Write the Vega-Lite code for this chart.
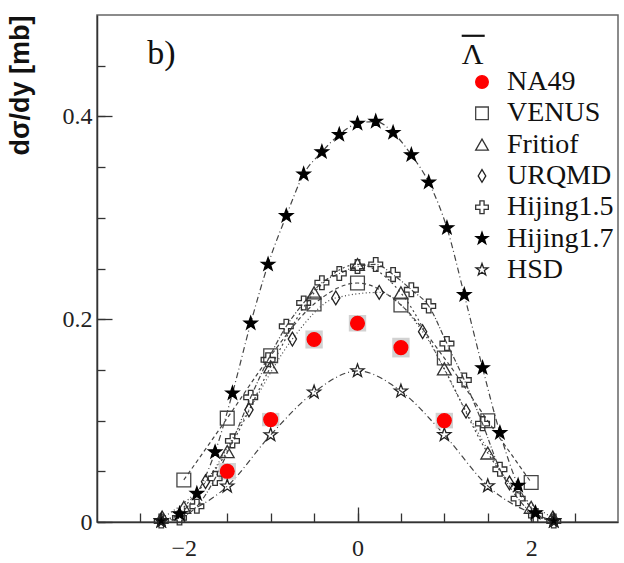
{
  "$schema": "https://vega.github.io/schema/vega-lite/v6.json",
  "width": 521,
  "height": 507,
  "autosize": {"type": "none"},
  "padding": {"left": 97, "top": 15, "right": 6, "bottom": 41},
  "background": "white",
  "config": {
    "view": {"stroke": "#666", "strokeWidth": 1.5},
    "font": "Liberation Serif"
  },
  "resolve": {"axis": {"x": "independent", "y": "independent"}},
  "datasets": {
    "pts": [
      {"model": "VENUS", "x": -2.0, "y": 0.0415},
      {"model": "VENUS", "x": -1.5, "y": 0.1024},
      {"model": "VENUS", "x": -1.0, "y": 0.164},
      {"model": "VENUS", "x": -0.5, "y": 0.215},
      {"model": "VENUS", "x": 0.0, "y": 0.2357},
      {"model": "VENUS", "x": 0.5, "y": 0.214},
      {"model": "VENUS", "x": 1.0, "y": 0.1617},
      {"model": "VENUS", "x": 1.5, "y": 0.0998},
      {"model": "VENUS", "x": 2.0, "y": 0.039},
      {"model": "Fritiof", "x": -2.0, "y": 0.0145},
      {"model": "Fritiof", "x": -1.5, "y": 0.0694},
      {"model": "Fritiof", "x": -1.0, "y": 0.153},
      {"model": "Fritiof", "x": -0.5, "y": 0.226},
      {"model": "Fritiof", "x": 0.0, "y": 0.254},
      {"model": "Fritiof", "x": 0.5, "y": 0.226},
      {"model": "Fritiof", "x": 1.0, "y": 0.151},
      {"model": "Fritiof", "x": 1.5, "y": 0.068},
      {"model": "Fritiof", "x": 2.0, "y": 0.0145},
      {"model": "URQMD", "x": -2.25, "y": 0.004},
      {"model": "URQMD", "x": -1.75, "y": 0.0398},
      {"model": "URQMD", "x": -1.25, "y": 0.1106},
      {"model": "URQMD", "x": -0.75, "y": 0.1804},
      {"model": "URQMD", "x": -0.25, "y": 0.221},
      {"model": "URQMD", "x": 0.25, "y": 0.2264},
      {"model": "URQMD", "x": 0.75, "y": 0.1877},
      {"model": "URQMD", "x": 1.25, "y": 0.1093},
      {"model": "URQMD", "x": 1.75, "y": 0.0385},
      {"model": "URQMD", "x": 2.25, "y": 0.004},
      {"model": "Hijing1.5", "x": -2.26, "y": 0.001},
      {"model": "Hijing1.5", "x": -2.05, "y": 0.004},
      {"model": "Hijing1.5", "x": -1.85, "y": 0.0155},
      {"model": "Hijing1.5", "x": -1.64, "y": 0.043},
      {"model": "Hijing1.5", "x": -1.44, "y": 0.08},
      {"model": "Hijing1.5", "x": -1.23, "y": 0.123},
      {"model": "Hijing1.5", "x": -1.03, "y": 0.16},
      {"model": "Hijing1.5", "x": -0.82, "y": 0.193},
      {"model": "Hijing1.5", "x": -0.62, "y": 0.216},
      {"model": "Hijing1.5", "x": -0.41, "y": 0.236},
      {"model": "Hijing1.5", "x": -0.21, "y": 0.245},
      {"model": "Hijing1.5", "x": 0.0, "y": 0.252},
      {"model": "Hijing1.5", "x": 0.21, "y": 0.254},
      {"model": "Hijing1.5", "x": 0.41, "y": 0.244},
      {"model": "Hijing1.5", "x": 0.62, "y": 0.229},
      {"model": "Hijing1.5", "x": 0.82, "y": 0.213},
      {"model": "Hijing1.5", "x": 1.03, "y": 0.176},
      {"model": "Hijing1.5", "x": 1.23, "y": 0.14},
      {"model": "Hijing1.5", "x": 1.44, "y": 0.097},
      {"model": "Hijing1.5", "x": 1.64, "y": 0.052},
      {"model": "Hijing1.5", "x": 1.85, "y": 0.023},
      {"model": "Hijing1.5", "x": 2.05, "y": 0.0064},
      {"model": "Hijing1.5", "x": 2.26, "y": 0.001},
      {"model": "Hijing1.7", "x": -2.26, "y": 0.001},
      {"model": "Hijing1.7", "x": -2.05, "y": 0.008},
      {"model": "Hijing1.7", "x": -1.85, "y": 0.028},
      {"model": "Hijing1.7", "x": -1.64, "y": 0.069},
      {"model": "Hijing1.7", "x": -1.44, "y": 0.127},
      {"model": "Hijing1.7", "x": -1.23, "y": 0.196},
      {"model": "Hijing1.7", "x": -1.03, "y": 0.254},
      {"model": "Hijing1.7", "x": -0.82, "y": 0.302},
      {"model": "Hijing1.7", "x": -0.62, "y": 0.343},
      {"model": "Hijing1.7", "x": -0.41, "y": 0.365},
      {"model": "Hijing1.7", "x": -0.21, "y": 0.382},
      {"model": "Hijing1.7", "x": 0.0, "y": 0.393},
      {"model": "Hijing1.7", "x": 0.21, "y": 0.395},
      {"model": "Hijing1.7", "x": 0.41, "y": 0.384},
      {"model": "Hijing1.7", "x": 0.62, "y": 0.362},
      {"model": "Hijing1.7", "x": 0.82, "y": 0.335},
      {"model": "Hijing1.7", "x": 1.03, "y": 0.29},
      {"model": "Hijing1.7", "x": 1.23, "y": 0.224},
      {"model": "Hijing1.7", "x": 1.44, "y": 0.152},
      {"model": "Hijing1.7", "x": 1.64, "y": 0.088},
      {"model": "Hijing1.7", "x": 1.85, "y": 0.036},
      {"model": "Hijing1.7", "x": 2.05, "y": 0.009},
      {"model": "Hijing1.7", "x": 2.26, "y": 0.001},
      {"model": "HSD", "x": -2.26, "y": 0.001},
      {"model": "HSD", "x": -1.5, "y": 0.0353},
      {"model": "HSD", "x": -1.0, "y": 0.0859},
      {"model": "HSD", "x": -0.5, "y": 0.128},
      {"model": "HSD", "x": 0.0, "y": 0.149},
      {"model": "HSD", "x": 0.5, "y": 0.129},
      {"model": "HSD", "x": 1.0, "y": 0.086},
      {"model": "HSD", "x": 1.5, "y": 0.0356},
      {"model": "HSD", "x": 2.26, "y": 0.001},
      {"model": "NA49", "x": -1.5, "y": 0.05},
      {"model": "NA49", "x": -1.0, "y": 0.101},
      {"model": "NA49", "x": -0.5, "y": 0.18},
      {"model": "NA49", "x": 0.0, "y": 0.196},
      {"model": "NA49", "x": 0.5, "y": 0.172},
      {"model": "NA49", "x": 1.0, "y": 0.1}
    ],
    "sys": [
      {"xlo": -1.6, "xhi": -1.4, "ylo": 0.0418, "yhi": 0.0582},
      {"xlo": -1.1, "xhi": -0.9, "ylo": 0.0944, "yhi": 0.1076},
      {"xlo": -0.6, "xhi": -0.4, "ylo": 0.1711, "yhi": 0.1889},
      {"xlo": -0.1, "xhi": 0.1, "ylo": 0.1878, "yhi": 0.2042},
      {"xlo": 0.4, "xhi": 0.6, "ylo": 0.1623, "yhi": 0.1817},
      {"xlo": 0.9, "xhi": 1.1, "ylo": 0.0923, "yhi": 0.1077}
    ],
    "ann": [
      {"t": "b)", "x": -2.42, "y": 0.452, "s": 34},
      {"t": "Λ", "x": 1.2, "y": 0.4514, "s": 30}
    ],
    "bar": [
      {"x": 1.2, "x2": 1.465, "y": 0.4795}
    ]
  },
  "layer": [
    {
      "data": {"name": "pts"},
      "transform": [{"filter": "datum.model != 'NA49'"}],
      "mark": {"type": "line", "interpolate": "monotone", "strokeWidth": 1.2, "color": "#444"},
      "encoding": {
        "x": {
          "field": "x", "type": "quantitative", "title": null,
          "scale": {"domain": [-3, 3], "nice": false, "zero": false},
          "axis": {
            "orient": "bottom", "offset": 0,
            "values": [-2.5, -2, -1.5, -1, -0.5, 0, 0.5, 1, 1.5, 2, 2.5],
            "labels": false,
            "tickSize": -9,
            "domainColor": "#333", "domainWidth": 1.5, "tickColor": "#333", "tickWidth": 1.3,
            "grid": false
          }
        },
        "y": {
          "field": "y", "type": "quantitative",
          "title": "dσ/dy [mb]",
          "scale": {"domain": [0, 0.5], "nice": false},
          "axis": {
            "orient": "left", "offset": 0,
            "values": [0, 0.05, 0.1, 0.15, 0.2, 0.25, 0.3, 0.35, 0.4, 0.45],
            "labels": false,
            "tickSize": -8,
            "domainColor": "#333", "domainWidth": 1.5, "tickColor": "#333", "tickWidth": 1.3,
            "grid": false,
            "titleFont": "Liberation Sans", "titleFontSize": 27, "titleFontWeight": "bold", "titleColor": "#111",
            "titleAnchor": "end", "titlePadding": 62
          }
        },
        "detail": {"field": "model"},
        "strokeDash": {
          "field": "model", "type": "nominal", "legend": null,
          "scale": {
            "domain": ["VENUS", "Fritiof", "URQMD", "Hijing1.5", "Hijing1.7", "HSD"],
            "range": [[4, 3], [2, 3], [1, 2.5], [5, 2, 1, 2], [6, 3, 1, 3], [6, 3, 1, 3]]
          }
        }
      }
    },
    {
      "data": {"name": "sys"},
      "mark": {"type": "rect", "color": "#d2d2d2"},
      "encoding": {
        "x": {"field": "xlo", "type": "quantitative", "axis": null},
        "x2": {"field": "xhi"},
        "y": {"field": "ylo", "type": "quantitative", "axis": null},
        "y2": {"field": "yhi"}
      }
    },
    {
      "data": {"name": "pts"},
      "mark": {"type": "point", "filled": false, "size": 190, "strokeWidth": 1.3, "opacity": 1},
      "encoding": {
        "x": {
          "field": "x", "type": "quantitative", "title": null,
          "axis": {
            "orient": "bottom", "offset": 0,
            "values": [-2, 0, 2],
            "labelExpr": "datum.value == -2 ? '−2' : datum.value == 0 ? '0' : '2'",
            "tickSize": -15, "labelPadding": 29,
            "labelFont": "Liberation Serif", "labelFontSize": 24, "labelColor": "#222",
            "domain": false, "tickColor": "#333", "tickWidth": 1.3,
            "grid": false
          }
        },
        "y": {
          "field": "y", "type": "quantitative", "title": null,
          "axis": {
            "orient": "left", "offset": 0,
            "values": [0, 0.2, 0.4],
            "labelExpr": "datum.value == 0 ? '0' : datum.value < 0.3 ? '0.2' : '0.4'",
            "tickSize": -15, "labelPadding": 20,
            "labelFont": "Liberation Serif", "labelFontSize": 24, "labelColor": "#222",
            "domain": false, "tickColor": "#333", "tickWidth": 1.3,
            "grid": false
          }
        },
        "shape": {
          "field": "model", "type": "nominal",
          "scale": {
            "domain": ["NA49", "VENUS", "Fritiof", "URQMD", "Hijing1.5", "Hijing1.7", "HSD"],
            "range": ["circle", "square", "triangle-up", "M0,-1L0.6,0L0,1L-0.6,0Z", "M-0.33,-1H0.33V-0.33H1V0.33H0.33V1H-0.33V0.33H-1V-0.33H-0.33Z", "M0,-1L0.235,-0.324L0.951,-0.309L0.38,0.124L0.588,0.809L0,0.4L-0.588,0.809L-0.38,0.124L-0.951,-0.309L-0.235,-0.324Z", "M0,-1L0.235,-0.324L0.951,-0.309L0.38,0.124L0.588,0.809L0,0.4L-0.588,0.809L-0.38,0.124L-0.951,-0.309L-0.235,-0.324Z"]
          },
          "legend": {
            "orient": "none", "legendX": 365, "legendY": 53,
            "title": null,
            "labelFont": "Liberation Serif", "labelFontSize": 28, "labelColor": "#111",
            "symbolSize": 160, "symbolStrokeWidth": 1.3, "symbolOffset": 6, "labelOffset": 11,
            "rowPadding": 3.3, "padding": 0
          }
        },
        "fill": {
          "field": "model", "type": "nominal",
          "scale": {
            "domain": ["NA49", "VENUS", "Fritiof", "URQMD", "Hijing1.5", "Hijing1.7", "HSD"],
            "range": ["#ff0000", "transparent", "transparent", "transparent", "transparent", "#000000", "transparent"]
          }
        },
        "stroke": {
          "field": "model", "type": "nominal",
          "scale": {
            "domain": ["NA49", "VENUS", "Fritiof", "URQMD", "Hijing1.5", "Hijing1.7", "HSD"],
            "range": ["#ff0000", "#444444", "#333333", "#222222", "#333333", "#000000", "#222222"]
          }
        }
      }
    },
    {
      "data": {"name": "ann"},
      "mark": {"type": "text", "font": "Liberation Serif", "align": "left", "baseline": "alphabetic", "color": "#111"},
      "encoding": {
        "x": {"field": "x", "type": "quantitative", "axis": null},
        "y": {"field": "y", "type": "quantitative", "axis": null},
        "text": {"field": "t"},
        "size": {"field": "s", "type": "quantitative", "scale": null}
      }
    },
    {
      "data": {"name": "bar"},
      "mark": {"type": "rule", "strokeWidth": 2.2, "color": "#111"},
      "encoding": {
        "x": {"field": "x", "type": "quantitative", "axis": null},
        "x2": {"field": "x2"},
        "y": {"field": "y", "type": "quantitative", "axis": null}
      }
    }
  ]
}
